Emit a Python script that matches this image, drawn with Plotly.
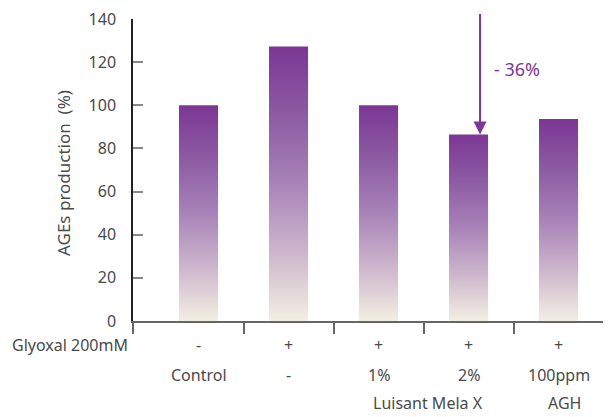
import plotly.graph_objects as go

# AGEs production per treatment (% of control)
groups = ["Control", "Glyoxal", "LMX 1%", "LMX 2%", "AGH"]
ages_production = [100, 127.3, 100, 86.4, 93.6]
glyoxal_row = ["-", "+", "+", "+", "+"]
dose_row = ["Control", "-", "1%", "2%", "100ppm"]
product_row = [("Luisant Mela X", 2.55), ("AGH", 4.07)]
y_ticks = [0, 20, 40, 60, 80, 100, 120, 140]
reduction_label = "- 36%"

PURPLE = "#7B3794"
GRAD = [[0.0, "#F3EFE3"], [0.25, "#CDB6CC"], [0.5, "#A883B8"],
        [0.75, "#8D5BA3"], [1.0, PURPLE]]
FONT = "Noto Sans"
TEXT = "#4a4a4a"

X_MIN, X_MAX = -0.728, 4.494
HALF_W = 0.217

fig = go.Figure()

# each bar is a filled rectangle with its own vertical gradient (bottom -> top)
for i, v in enumerate(ages_production):
    fig.add_trace(go.Scatter(
        x=[i - HALF_W, i + HALF_W, i + HALF_W, i - HALF_W, i - HALF_W],
        y=[0, 0, v, v, 0],
        mode="lines", line=dict(width=0), fill="toself",
        fillgradient=dict(type="vertical", colorscale=GRAD),
        hoverinfo="skip", showlegend=False,
    ))

fig.update_layout(
    width=611, height=417,
    margin=dict(l=133, r=8, t=13, b=96),
    paper_bgcolor="white", plot_bgcolor="white",
    font=dict(family=FONT, color=TEXT, size=16),
    xaxis=dict(range=[X_MIN, X_MAX], showgrid=False, zeroline=False,
               showline=True, linecolor="#666", linewidth=1.5,
               tickmode="array", tickvals=[X_MIN + 0.001, 0.5, 1.5, 2.5, 3.5],
               ticktext=["", "", "", "", ""], ticks="outside", ticklen=11,
               tickcolor="#666", tickwidth=1.5),
    yaxis=dict(range=[0, 140], showgrid=False, zeroline=False,
               showline=True, linecolor="#222", linewidth=1.5,
               tickmode="array", tickvals=y_ticks, ticks="inside",
               ticklen=10, tickwidth=2, tickcolor="#888",
               ticklabelstandoff=12, tickfont=dict(size=16, color=TEXT)),
)

# y-axis title
fig.add_annotation(xref="paper", yref="paper", x=-0.149, y=0.49,
                   xanchor="center", yanchor="middle", textangle=-90,
                   text="AGEs production\u00a0 (%)", showarrow=False,
                   font=dict(size=17, color=TEXT))

# treatment rows under the axis
row_y = [-0.081, -0.179, -0.273]
fig.add_annotation(xref="paper", yref="paper", x=-0.007, y=row_y[0],
                   xanchor="right", yanchor="middle", text="Glyoxal 200mM",
                   showarrow=False, font=dict(size=16, color=TEXT))
for i, s in enumerate(glyoxal_row):
    fig.add_annotation(x=i, yref="paper", y=row_y[0], text=s, showarrow=False,
                       yanchor="middle", font=dict(size=16, color=TEXT))
for i, s in enumerate(dose_row):
    fig.add_annotation(x=i, yref="paper", y=row_y[1], text=s, showarrow=False,
                       yanchor="middle", font=dict(size=16, color=TEXT))
for s, xpos in product_row:
    fig.add_annotation(x=xpos, yref="paper", y=row_y[2], text=s, showarrow=False,
                       yanchor="middle", font=dict(size=16, color=TEXT))

# reduction arrow onto the 2% bar
fig.add_annotation(x=3.128, y=ages_production[3], ax=3.128, ay=143,
                   axref="x", ayref="y", xref="x", yref="y",
                   text="", showarrow=True, arrowhead=2, arrowsize=1.3,
                   arrowwidth=2, arrowcolor=PURPLE)
fig.add_annotation(x=3.26, y=117, text=reduction_label, showarrow=False,
                   xanchor="left", yanchor="middle",
                   font=dict(size=18, color=PURPLE))

fig.write_html("out.html")
